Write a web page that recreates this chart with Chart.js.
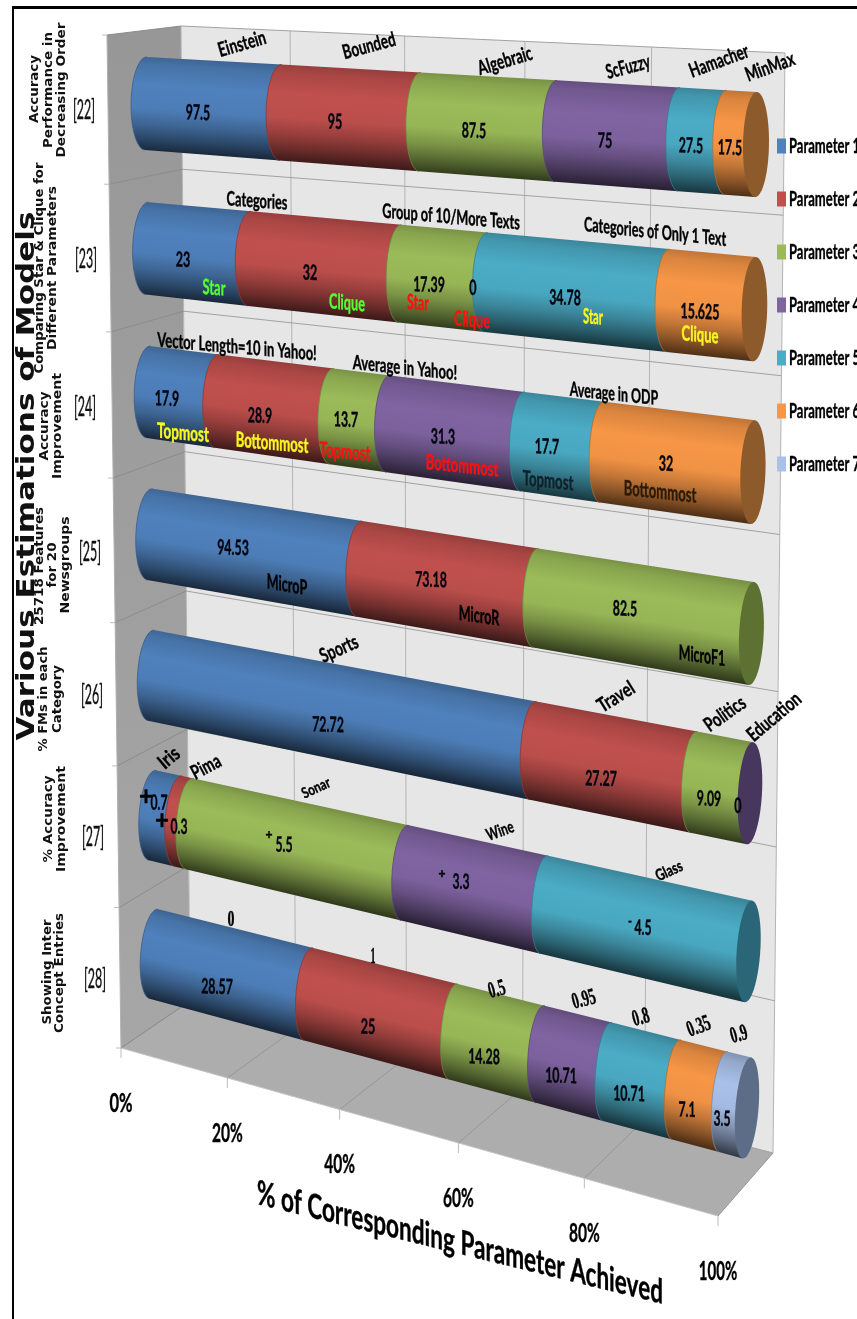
<!DOCTYPE html>
<html>
<head>
<meta charset="utf-8">
<title>Various Estimations of Models</title>
<script src="https://cdn.jsdelivr.net/npm/chart.js@4/dist/chart.umd.js"></script>
<style>
  html, body { margin: 0; padding: 0; background: #fff; }
  canvas { display: block; }
</style>
</head>
<body>
<canvas id="chart" width="857" height="1319"></canvas>
<script>
// ===== DATA =====
const categories = ['[22]', '[23]', '[24]', '[25]', '[26]', '[27]', '[28]'];
const seriesNames = ['Parameter 1', 'Parameter 2', 'Parameter 3', 'Parameter 4', 'Parameter 5', 'Parameter 6', 'Parameter 7'];
const row22 = [97.5, 95, 87.5, 75, 27.5, 17.5];
const row23 = [23, 32, 17.39, 0, 34.78, 15.625];
const row24 = [17.9, 28.9, 13.7, 31.3, 17.7, 32];
const row25 = [94.53, 73.18, 82.5];
const row26 = [72.72, 27.27, 9.09, 0];
const row27 = [0.7, 0.3, 5.5, 3.3, 4.5];
const row28 = [28.57, 25, 14.28, 10.71, 10.71, 7.1, 3.5];
const rows = [row22, row23, row24, row25, row26, row27, row28];
const xTicks = [0, 20, 40, 60, 80, 100];
const xTickLabels = ['0%', '20%', '40%', '60%', '80%', '100%'];

// ===== COLOURS =====
const seriesColors = ['#4f81bd', '#c0504d', '#9bbb59', '#8064a2', '#4bacc6', '#f79646', '#a9c0e8'];
const capColors = ['#2f4d71', '#733030', '#5d7132', '#47375f', '#2a6678', '#8d5a2c', '#5e6d87'];
const lime = '#55ff33', red = '#ff1010', yellow = '#f8f820', ink = '#000';

// ===== LAYOUT =====
const LABEL = 'bold 21px Lato';
const SMALL = 'bold 20px Lato';
const SERIF = 'bold 23px "Liberation Serif"';
const SIDE = 'bold 11.5px "DejaVu Sans"';

// centre of each value label, row by row
const valueSpots = [
  [[198, 113], [335, 122], [474, 131], [605, 141], [691, 146], [730, 148]],
  [[183, 260], [310, 273], [429, 285], [473, 288], [565, 298], [700, 312]],
  [[167, 399], [260, 416], [346, 420], [443, 437], [547, 447], [666, 464]],
  [[233, 548], [431, 580], [625, 609]],
  [[328, 725], [601, 779], [709, 799], [738, 806]],
  [[159, 803], [179, 827], [284, 845], [461, 882], [643, 928]],
  [[217, 987], [368, 1027], [484, 1057], [561, 1076], [629, 1094], [687, 1110], [722, 1119]]
];

// text, x, y, width, slope, font, colour
const notes = [
  ['Einstein', 242, 44, 49, -16, SMALL, ink], ['Bounded', 369, 46, 54, -15, SMALL, ink],
  ['Algebraic', 505, 61, 56, -17, SMALL, ink], ['ScFuzzy', 628, 67, 45, -15, SMALL, ink],
  ['Hamacher', 719, 61, 62, -20, SMALL, ink], ['MinMax', 770, 67, 51, -20, SMALL, ink],

  ['Categories', 257, 201, 61, 4, SMALL, ink],
  ['Group of 10/More Texts', 451, 217, 138, 5, SMALL, ink],
  ['Categories of Only 1 Text', 655, 232, 143, 6, SMALL, ink],
  ['Star', 214, 288, 23, 5, LABEL, lime], ['Clique', 347, 303, 36, 5, LABEL, lime],
  ['Star', 418, 303, 22, 5, LABEL, red], ['Clique', 472, 320, 36, 5, LABEL, red],
  ['Star', 593, 317, 20, 5, LABEL, yellow], ['Clique', 700, 335, 37, 5, LABEL, yellow],

  ['Vector Length=10 in Yahoo!', 237, 347, 160, 5, SMALL, ink],
  ['Average in Yahoo!', 405, 368, 105, 6, SMALL, ink],
  ['Average in ODP', 614, 394, 89, 6, SMALL, ink],
  ['Topmost', 183, 433, 52, 5, LABEL, yellow], ['Bottommost', 272, 443, 73, 5, LABEL, yellow],
  ['Topmost', 345, 452, 51, 5, LABEL, red], ['Bottommost', 462, 466, 73, 6, LABEL, red],
  ['Topmost', 548, 481, 51, 6, LABEL, '#10202a'], ['Bottommost', 660, 492, 73, 6, LABEL, '#2a1a08'],

  ['MicroP', 287, 585, 41, 10, LABEL, ink], ['MicroR', 479, 616, 41, 8, LABEL, ink],
  ['MicroF1', 702, 656, 47, 8, LABEL, ink],

  ['Sports', 339, 649, 40, -24, SMALL, ink], ['Travel', 616, 697, 40, -32, SMALL, ink],
  ['Politics', 725, 714, 46, -35, SMALL, ink], ['Education', 774, 717, 64, -40, SMALL, ink],

  ['Iris', 169, 758, 22, -40, SMALL, ink], ['Pima', 206, 767, 31, -28, SMALL, ink],
  ['Sonar', 316, 788, 30, -25, 'bold 15px Lato', ink], ['Wine', 500, 831, 28, -20, 'bold 17px Lato', ink],
  ['Glass', 669, 871, 28, -25, 'bold 16px Lato', ink],
  ['+', 146, 797, 14, 0, 'bold 26px Lato', ink], ['+', 162, 821, 14, 0, 'bold 26px Lato', ink],
  ['+', 269, 834, 7, 0, 'bold 14px Lato', ink], ['+', 442, 873, 7, 0, 'bold 14px Lato', ink],
  ['-', 630, 921, 4, 0, 'bold 14px Lato', ink],

  ['0', 231, 920, 7, 0, SERIF, ink], ['1', 373, 957, 5, 0, SERIF, ink],
  ['0.5', 497, 990, 17, -15, SERIF, ink], ['0.95', 584, 1000, 24, -15, SERIF, ink],
  ['0.8', 641, 1018, 17, -15, SERIF, ink], ['0.35', 699, 1027, 24, -20, SERIF, ink],
  ['0.9', 739, 1035, 17, -15, SERIF, ink]
];

// rotated side text: text, x, y, length, font
const sideText = [
  ['Accuracy', 35, 89, 68], ['Performance in', 49, 90, 116], ['Decreasing Order', 62, 90, 135],
  ['Comparing Star & Clique for', 40, 268, 211], ['Different Parameters', 53, 268, 164],
  ['Accuracy', 45, 426, 69], ['Improvement', 58, 426, 106],
  ['25718 Features', 40, 566, 118], ['for 20', 53, 565, 45], ['Newsgroups', 66, 565, 97],
  ['% FMs in each', 44, 699, 105], ['Category', 58, 699, 68],
  ['% Accuracy', 49, 819, 87], ['Improvement', 62, 819, 106],
  ['Showing Inter', 48, 972, 105], ['Concept Entries', 60, 973, 120]
];
const categorySpots = [[84, 111], [86, 260], [85, 408], [90, 553], [92, 696], [93, 838], [95, 980]];

// ===== PROJECTION =====
function quadMap(p00, p10, p11, p01) {
  const dx1 = p10[0] - p11[0], dx2 = p01[0] - p11[0], sx = p00[0] - p10[0] + p11[0] - p01[0];
  const dy1 = p10[1] - p11[1], dy2 = p01[1] - p11[1], sy = p00[1] - p10[1] + p11[1] - p01[1];
  const det = dx1 * dy2 - dx2 * dy1;
  const g = (sx * dy2 - dx2 * sy) / det, h = (dx1 * sy - sx * dy1) / det;
  const a = p10[0] - p00[0] + g * p10[0], b = p01[0] - p00[0] + h * p01[0];
  const d = p10[1] - p00[1] + g * p10[1], e = p01[1] - p00[1] + h * p01[1];
  return (u, v) => {
    const w = g * u + h * v + 1;
    return [(a * u + b * v + p00[0]) / w, (d * u + e * v + p00[1]) / w];
  };
}

const lerp = (a, b, t) => a + (b - a) * t;
const edgePoint = (A, B, t, k) => {
  const s = t / (t + k * (1 - t));
  return [lerp(A[0], B[0], s), lerp(A[1], B[1], s)];
};

const wallMap = quadMap([181, 26], [785, 53], [773, 1153], [190, 1001]);
const barMap = quadMap([146, 103.5], [756, 144.5], [747, 1108], [154, 954]);
const frontLeftTop = [107, 35], frontLeft = [121, 1048], frontRight = [718, 1216];

function shade(hex, f) {
  const n = parseInt(hex.slice(1), 16);
  const ch = s => Math.min(255, Math.round(((n >> s) & 255) * f));
  return `rgb(${ch(16)},${ch(8)},${ch(0)})`;
}

function poly(ctx, pts, fill) {
  ctx.beginPath();
  pts.forEach((p, i) => i ? ctx.lineTo(p[0], p[1]) : ctx.moveTo(p[0], p[1]));
  ctx.closePath();
  ctx.fillStyle = fill;
  ctx.fill();
}

function line(ctx, a, b, color, width) {
  ctx.beginPath();
  ctx.moveTo(a[0], a[1]);
  ctx.lineTo(b[0], b[1]);
  ctx.strokeStyle = color;
  ctx.lineWidth = width || 1;
  ctx.stroke();
}

// rising text is turned, falling text keeps its letters upright on a sloped baseline
function fitText(ctx, text, x, y, width, slope, font, color) {
  ctx.save();
  ctx.font = font;
  const sx = width / ctx.measureText(text).width;
  const r = slope * Math.PI / 180;
  const lean = slope < 0 ? -Math.sin(r) : 0, rise = slope < 0 ? Math.cos(r) : 1;
  ctx.transform(sx * Math.cos(r), sx * Math.sin(r), lean, rise, x, y);
  ctx.textAlign = 'center';
  ctx.textBaseline = 'middle';
  ctx.fillStyle = color;
  ctx.strokeStyle = color;
  ctx.lineWidth = 0.4;
  ctx.fillText(text, 0, 0);
  ctx.strokeText(text, 0, 0);
  ctx.restore();
}

function upText(ctx, text, x, y, length, font) {
  ctx.save();
  ctx.font = font;
  const sx = length / ctx.measureText(text).width;
  ctx.translate(x, y);
  ctx.rotate(-Math.PI / 2);
  ctx.scale(sx, 1);
  ctx.textAlign = 'center';
  ctx.textBaseline = 'middle';
  ctx.fillStyle = '#111';
  ctx.fillText(text, 0, 0);
  ctx.restore();
}

// ===== WALLS =====
function drawWalls(chart) {
  const ctx = chart.ctx, xs = chart.scales.x, ys = chart.scales.y;
  const toU = val => (xs.getPixelForValue(val) - xs.left) / xs.width;
  const backBL = wallMap(0, 1);

  ctx.fillStyle = '#fff';
  ctx.fillRect(0, 0, chart.width, chart.height);
  ctx.fillStyle = '#000';
  ctx.fillRect(12, 6, 845, 3);
  ctx.fillRect(12, 6, 2, 1313);

  const sideFill = ctx.createLinearGradient(0, 26, 0, 1048);
  sideFill.addColorStop(0, '#979797');
  sideFill.addColorStop(1, '#a6a6a6');
  poly(ctx, [frontLeftTop, wallMap(0, 0), backBL, frontLeft], sideFill);
  poly(ctx, [wallMap(0, 0), wallMap(1, 0), wallMap(1, 1), backBL], '#e6e6e6');
  poly(ctx, [frontLeft, backBL, wallMap(1, 1), frontRight], '#adadad');

  xTicks.forEach(t => {
    const u = toU(t), front = edgePoint(frontLeft, frontRight, u, 1.154);
    line(ctx, wallMap(u, 0), wallMap(u, 1), '#b4b4b4');
    line(ctx, front, wallMap(u, 1), '#969696');
    line(ctx, front, [front[0], front[1] + 10], '#bcbcbc');
  });
  for (let k = 0; k <= categories.length; k++) {
    const py = ys.top + ys.height * k / categories.length;
    const v = (py - ys.top) / ys.height;
    const front = edgePoint(frontLeftTop, frontLeft, v, 0.965);
    line(ctx, wallMap(0, v), wallMap(1, v), '#a2a2a2');
    line(ctx, front, wallMap(0, v), '#8c8c8c');
    line(ctx, [front[0] - 5, front[1]], front, '#bcbcbc');
  }
  line(ctx, frontLeftTop, frontLeft, '#b0b0b0');
  line(ctx, frontLeft, frontRight, '#c4c4c4');
}

// ===== CYLINDERS =====
function ringAt(u, v) {
  const c = barMap(u, v), next = barMap(Math.min(u + 0.02, 1.02), v);
  const len = Math.hypot(next[0] - c[0], next[1] - c[1]);
  const axis = [(next[0] - c[0]) / len, (next[1] - c[1]) / len];
  const semi = lerp(46.5, 52.5, u) * lerp(1, 0.96, v);
  const w = lerp(15, 13, u) * lerp(1, 0.9, v);
  const tilt = lerp(1, 4.5, v);
  return { c, axis, major: [tilt, -semi], minor: [-w * axis[0], -w * axis[1]] };
}

// t runs from 0 at the top of the ring, through the bulge, to PI at the bottom
const ringPoint = (ring, t) => [
  ring.c[0] + Math.cos(t) * ring.major[0] + Math.sin(t) * ring.minor[0],
  ring.c[1] + Math.cos(t) * ring.major[1] + Math.sin(t) * ring.minor[1]
];

function drawSegment(ctx, u0, u1, v, color) {
  const a = ringAt(u0, v), b = ringAt(u1, v);
  const pts = [ringPoint(a, 0), ringPoint(b, 0), ringPoint(b, Math.PI)];
  for (let i = 0; i <= 24; i++) pts.push(ringPoint(a, Math.PI - i * Math.PI / 24));

  const mid = ringAt((u0 + u1) / 2, v);
  const n = [-mid.axis[1], mid.axis[0]];
  const depth = -mid.major[1] * Math.cos(Math.atan2(mid.axis[1], mid.axis[0]));
  const fill = ctx.createLinearGradient(
    mid.c[0] - n[0] * depth, mid.c[1] - n[1] * depth,
    mid.c[0] + n[0] * depth, mid.c[1] + n[1] * depth
  );
  [[0, 0.78], [0.08, 0.88], [0.3, 1], [0.55, 0.97], [0.72, 0.78], [0.87, 0.55], [1, 0.32]]
    .forEach(s => fill.addColorStop(s[0], shade(color, s[1])));
  poly(ctx, pts, fill);

  ctx.beginPath();
  for (let i = 0; i <= 24; i++) {
    const p = ringPoint(a, i * Math.PI / 24);
    i ? ctx.lineTo(p[0], p[1]) : ctx.moveTo(p[0], p[1]);
  }
  ctx.strokeStyle = shade(color, 0.72);
  ctx.lineWidth = 0.8;
  ctx.stroke();
}

function drawCap(ctx, v, color) {
  const ring = ringAt(1, v), pts = [];
  for (let i = 0; i < 48; i++) pts.push(ringPoint(ring, i * Math.PI / 24));
  poly(ctx, pts, color);
}

const cylinderPlugin = {
  id: 'cylinderBars',
  beforeDatasetsDraw(chart) {
    const ctx = chart.ctx, xs = chart.scales.x, ys = chart.scales.y;
    const firstY = ys.getPixelForValue(0), lastY = ys.getPixelForValue(categories.length - 1);
    drawWalls(chart);
    categories.forEach((name, j) => {
      let lastSeries = 0, v = 0;
      chart.data.datasets.forEach((ds, i) => {
        if (ds.data[j] == null) return;
        lastSeries = i;
        const bar = chart.getDatasetMeta(i).data[j];
        v = (bar.y - firstY) / (lastY - firstY);
        if (ds.data[j] > 0) {
          drawSegment(ctx, (bar.base - xs.left) / xs.width, (bar.x - xs.left) / xs.width, v, ds.backgroundColor);
        }
      });
      drawCap(ctx, v, capColors[lastSeries]);
    });
    return false;
  },
  afterDraw(chart) {
    const ctx = chart.ctx, xs = chart.scales.x;
    // value labels
    rows.forEach((row, j) => row.forEach((val, i) => {
      const spot = valueSpots[j][i], text = String(val);
      const width = text.replace('.', '').length * 7.3 + (text.includes('.') ? 2.5 : 0);
      fitText(ctx, text, spot[0], spot[1], width, 2, LABEL, '#05050f');
    }));
    notes.forEach(n => fitText(ctx, n[0], n[1], n[2], n[3], n[4], n[5], n[6]));

    // category references and descriptions down the side
    categories.forEach((name, j) => {
      fitText(ctx, name, categorySpots[j][0], categorySpots[j][1], 22, 0, '26px Lato', '#111');
    });
    sideText.forEach(s => upText(ctx, s[0], s[1], s[2], s[3], SIDE));
    upText(ctx, 'Various Estimations of Models', 27, 476, 529, 'bold 25px "DejaVu Sans"');

    // x axis tick labels follow the front edge of the floor
    xTicks.forEach((t, i) => {
      const u = (xs.getPixelForValue(t) - xs.left) / xs.width;
      const p = edgePoint(frontLeft, frontRight, u, 1.154);
      fitText(ctx, xTickLabels[i], p[0], p[1] + 55, 7.7 * (xTickLabels[i].length + 1), 0, 'bold 27px Lato', '#000');
    });
    fitText(ctx, '% of Corresponding Parameter Achieved', 460, 1243, 418, 13.8, 'bold 34px Lato', '#000');

    // legend
    chart.data.datasets.forEach((ds, i) => {
      const y = 146 + i * 53;
      ctx.fillStyle = ds.backgroundColor;
      ctx.fillRect(777, y - 7.5, 9, 15);
      ctx.save();
      ctx.font = 'bold 21px Lato';
      const sx = 71 / ctx.measureText(ds.label).width;
      ctx.transform(sx, 0, 0, 1, 789, y);
      ctx.textBaseline = 'middle';
      ctx.fillStyle = '#000';
      ctx.strokeStyle = '#000';
      ctx.lineWidth = 0.4;
      ctx.fillText(ds.label, 0, 0);
      ctx.strokeText(ds.label, 0, 0);
      ctx.restore();
    });
  }
};

// ===== CHART =====
const sum = row => row.reduce((a, b) => a + b, 0);
const datasets = seriesNames.map((label, s) => ({
  label,
  backgroundColor: seriesColors[s],
  data: rows.map(row => (row[s] == null ? null : row[s] / sum(row) * 100))
}));

new Chart(document.getElementById('chart'), {
  type: 'bar',
  data: { labels: categories, datasets },
  options: {
    indexAxis: 'y',
    responsive: false,
    animation: false,
    layout: { padding: 0 },
    plugins: { legend: { display: false }, tooltip: { enabled: false } },
    scales: {
      x: { stacked: true, min: 0, max: 100, display: false },
      y: { stacked: true, display: false }
    }
  },
  plugins: [cylinderPlugin]
});
</script>
</body>
</html>
